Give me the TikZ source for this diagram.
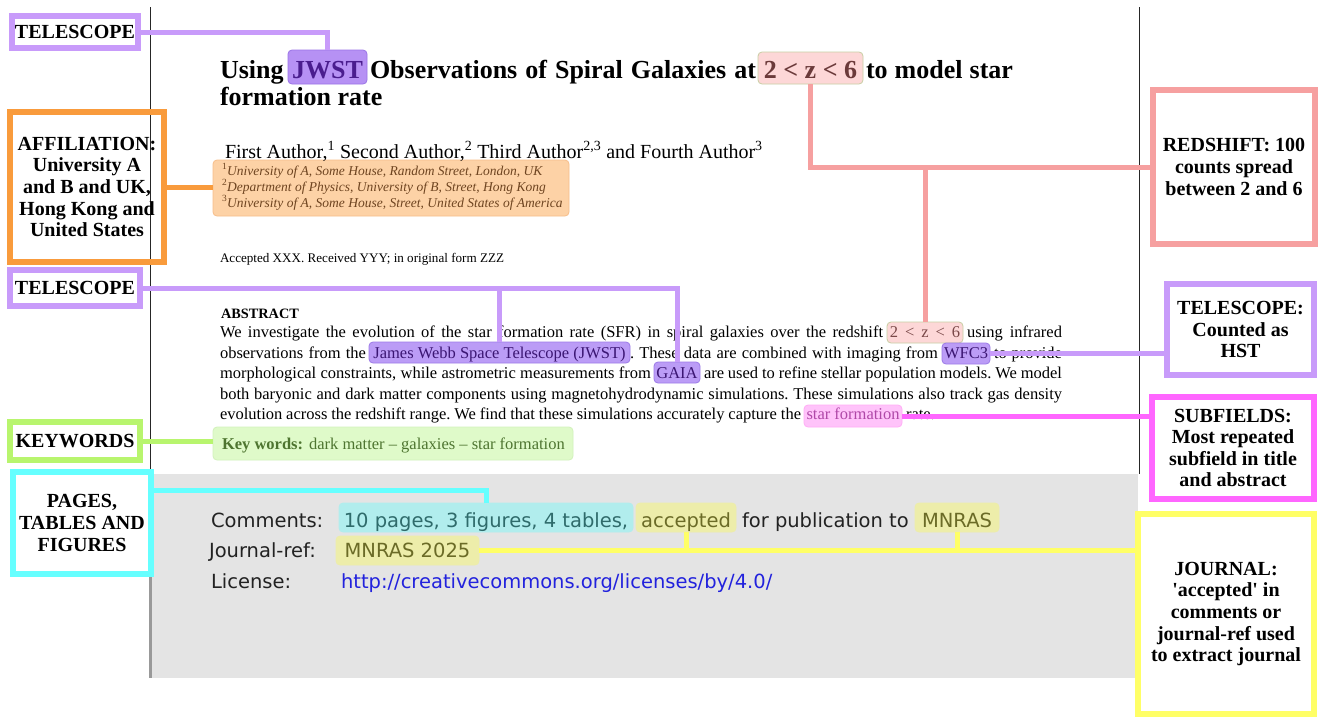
\documentclass[tikz,border=0pt]{standalone}
\usepackage{fontspec}
\setmainfont{Liberation Serif}
\newfontfamily\sansc{DejaVu Sans}
\usetikzlibrary{calc}
\frenchspacing

\definecolor{cpur}{HTML}{C89BFA}
\definecolor{corg}{HTML}{F99B3C}
\definecolor{cred}{HTML}{F6A0A0}
\definecolor{cgrn}{HTML}{B8F56E}
\definecolor{ccyn}{HTML}{66FFFF}
\definecolor{cyel}{HTML}{FFFF66}
\definecolor{cmag}{HTML}{FF66FF}
\definecolor{panel}{HTML}{E4E4E4}
% highlight fills / borders
\definecolor{hjw}{HTML}{B691F4}\definecolor{hjwd}{HTML}{9A74E6}
\definecolor{hpu}{HTML}{BB9CF6}\definecolor{hpud}{HTML}{9C7BE8}
\definecolor{hz}{HTML}{FDD7D7}\definecolor{hzd}{HTML}{C8CFA4}
\definecolor{haf}{HTML}{FDD2A6}\definecolor{hafd}{HTML}{F7BE8A}
\definecolor{hkw}{HTML}{DFFAC9}\definecolor{hkwd}{HTML}{D2F2BB}
\definecolor{hcy}{HTML}{B1EDED}
\definecolor{hye}{HTML}{EDEDAA}
\definecolor{hsf}{HTML}{FFC3FA}\definecolor{hsfd}{HTML}{FFADF6}
% text colours
\definecolor{tjw}{HTML}{4A1D8E}
\definecolor{tpu}{HTML}{3B1673}
\definecolor{tz}{HTML}{6B3A3A}
\definecolor{tz2}{HTML}{7A4848}
\definecolor{taf}{HTML}{6E4420}
\definecolor{tkw}{HTML}{4E7530}
\definecolor{tcy}{HTML}{2F6B6B}
\definecolor{tye}{HTML}{6B6B27}
\definecolor{tsf}{HTML}{B048A8}
\definecolor{tgr}{HTML}{222222}
\definecolor{turl}{HTML}{2222DD}

\newcommand\ftitle{\fontsize{26}{28}\selectfont\bfseries}
\newcommand\fauth{\fontsize{20}{22}\selectfont}
\newcommand\faff{\fontsize{13.5}{16}\selectfont}
\newcommand\facc{\fontsize{13.1}{15}\selectfont}
\newcommand\fabsh{\fontsize{14.3}{16}\selectfont\bfseries}
\newcommand\fabs{\fontsize{16.5}{20}\selectfont}
\newcommand\fkw{\fontsize{16.5}{20}\selectfont}
\newcommand\fcom{\fontsize{19.5}{22}\selectfont\sansc}
\newcommand\flab{\fontsize{20}{21.6}\selectfont\bfseries}
\newcommand\zsp{\hspace{0.42em}}

\tikzset{
  lab/.style={draw=#1, line width=6pt, align=center, inner sep=0pt, font=\flab},
  conn/.style={draw=#1, line width=5pt},
  hlb/.style 2 args={fill=#1, draw=#2, line width=0.8pt, rounded corners=4pt, inner sep=0pt, outer sep=0pt},
  txt/.style={inner sep=0pt, outer sep=0pt, anchor=base west},
  ctxt/.style={inner sep=0pt, outer sep=0pt, anchor=base},
  pageline/.style={line width=0.9pt, black!85},
}

\newcommand\hlbox[7]{%
  \node[hlb={#2}{#3}, minimum width={(#6)-(#4)}, minimum height={(#7)-(#5)}] (#1) at ({((#4)+(#6))/2},{((#5)+(#7))/2}) {};}
\newcommand\seg[5]{\node[txt] (#1) at (#2,#3) {\makebox[#4pt][s]{#5}};}

\begin{document}
\begin{tikzpicture}[x=1pt,y=-1pt]
\useasboundingbox (0,0) rectangle (1318,718);
\fill[white] (0,0) rectangle (1318,718);
\fill[panel] (150,474) rectangle (1138,678);
\draw[line width=3pt, black!40] (150,474) -- (150,678);
\draw[pageline] (150,7) -- (150,474);
\draw[pageline] (1139,7) -- (1139,474);

% highlight boxes
\hlbox{jwstb}{hjw}{hjwd}{288}{50}{367}{84}
\hlbox{z1b}{hz}{hzd}{758}{52}{863}{84}
\hlbox{affb}{haf}{hafd}{213}{160}{569}{216}
\hlbox{z2b}{hz}{hzd}{887}{322}{963}{343}
\hlbox{jwb}{hpu}{hpud}{369}{342}{630}{363}
\hlbox{wfcb}{hpu}{hpud}{942}{343}{990}{364}
\hlbox{gaiab}{hpu}{hpud}{654}{362}{700}{383}
\hlbox{sfb}{hsf}{hsfd}{804}{405}{902}{427}
\hlbox{kwb}{hkw}{hkwd}{213}{427}{573}{460}
\hlbox{comb}{hcy}{hcy}{339}{503}{633}{532}
\hlbox{accb}{hye}{hye}{636}{503}{736}{532}
\hlbox{mnb}{hye}{hye}{915}{503}{999}{532}
\hlbox{mjb}{hye}{hye}{336}{536}{479}{565}

% title
\seg{t1a}{220}{78}{64}{\ftitle Using}
\node[ctxt] (t1j) at (327.5,78) {\ftitle\color{tjw}JWST};
\seg{t1b}{370}{78}{386}{\ftitle Observations of Spiral Galaxies at}
\node[ctxt] (t1z) at (810.5,78) {\ftitle\color{tz}2 < z < 6};
\seg{t1c}{866}{78}{147}{\ftitle to model star}
\node[txt] (t2) at (220,105) {\ftitle formation rate};

% authors
\node[txt] (au) at (225,158) {\fauth First Author,\textsuperscript{1} Second Author,\textsuperscript{2} Third Author\textsuperscript{2,3} and Fourth Author\textsuperscript{3}};
\node[txt] (af1) at (222,175) {\faff\color{taf}\textsuperscript{1}\textit{University of A, Some House, Random Street, London, UK}};
\node[txt] (af2) at (222,191) {\faff\color{taf}\textsuperscript{2}\textit{Department of Physics, University of B, Street, Hong Kong}};
\node[txt] (af3) at (222,207) {\faff\color{taf}\textsuperscript{3}\textit{University of A, Some House, Street, United States of America}};
\node[txt] (acc) at (220,262) {\facc Accepted XXX. Received YYY; in original form ZZZ};

% abstract
\node[txt] (absh) at (221,318) {\fabsh ABSTRACT};
\seg{a1a}{220}{337}{663}{\fabs We investigate the evolution of the star formation rate (SFR) in spiral galaxies over the redshift}
\node[ctxt] (a1z) at (925,337) {\fabs\color{tz2}2\zsp<\zsp z\zsp<\zsp 6};
\seg{a1b}{967}{337}{95}{\fabs using infrared}
\seg{a2a}{220}{358}{146}{\fabs observations from the}
\node[ctxt] (a2j) at (499.5,358) {\fabs\color{tpu}James Webb Space Telescope (JWST)};
\seg{a2b}{630}{358}{308}{\fabs . These data are combined with imaging from}
\node[ctxt] (a2w) at (966,358) {\fabs\color{tpu}WFC3};
\seg{a2c}{994}{358}{68}{\fabs to provide}
\seg{a3a}{220}{378}{431}{\fabs morphological constraints, while astrometric measurements from}
\node[ctxt] (a3g) at (677,378) {\fabs\color{tpu}GAIA};
\seg{a3b}{704}{378}{358}{\fabs are used to refine stellar population models. We model}
\seg{a4}{220}{399}{842}{\fabs both baryonic and dark matter components using magnetohydrodynamic simulations. These simulations also track gas density}
\seg{a5a}{220}{419}{581}{\fabs evolution across the redshift range. We find that these simulations accurately capture the}
\node[ctxt] (a5s) at (853,419) {\fabs\color{tsf}star formation};
\node[txt] (a5b) at (906,419) {\fabs rate.};
\node[txt] (kwt) at (222,449) {\fkw\color{tkw}\textbf{Key words:}\hspace{6pt}dark matter \textendash{} galaxies \textendash{} star formation};

% comments panel
\node[txt] (c1) at (211,527) {\fcom\color{tgr}Comments:};
\node[ctxt] (c1t) at (486,527) {\fcom\color{tcy}10 pages, 3 figures, 4 tables,};
\node[ctxt] (c1a) at (686,527) {\fcom\color{tye}accepted};
\node[txt] (c1f) at (742,527) {\fcom\color{tgr}for publication to};
\node[ctxt] (c1m) at (957,527) {\fcom\color{tye}MNRAS};
\node[txt] (c2) at (209,557) {\fcom\color{tgr}Journal-ref:};
\node[ctxt] (c2m) at (407.5,557) {\fcom\color{tye}MNRAS 2025};
\node[txt] (c3) at (211,588) {\fcom\color{tgr}License:};
\node[txt] (c3u) at (341,588) {\fcom\color{turl}http://creativecommons.org/licenses/by/4.0/};

% labels
\node[lab=cpur, minimum width=126, minimum height=32] (tel1) at (75,32) {TELESCOPE};
\node[lab=corg, minimum width=154, minimum height=150] (aff) at (87,187) {AFFILIATION:\\University A\\and B and UK,\\Hong Kong and\\United States};
\node[lab=cpur, minimum width=130, minimum height=36] (tel2) at (75,288) {TELESCOPE};
\node[lab=cgrn, minimum width=130, minimum height=38] (kw) at (75,441) {KEYWORDS};
\node[lab=ccyn, minimum width=138, minimum height=102] (pages) at (82,523) {PAGES,\\TABLES AND\\FIGURES};
\node[lab=cred, minimum width=162, minimum height=154] (red) at (1234,167) {REDSHIFT: 100\\counts spread\\between 2 and 6};
\node[lab=cpur, minimum width=147, minimum height=91] (hst) at (1240.5,329.5) {TELESCOPE:\\Counted as\\HST};
\node[lab=cmag, minimum width=162, minimum height=102] (sub) at (1233,448) {SUBFIELDS:\\Most repeated\\subfield in title\\and abstract};
\node[lab=cyel, minimum width=176, minimum height=200] (jour) at (1226,614) {JOURNAL:\\\textquotesingle accepted\textquotesingle{} in\\comments or\\journal-ref used\\to extract journal};

% connectors
\draw[conn=cpur] (tel1.east) -| (jwstb.north);
\draw[conn=corg] (aff.east) -- (aff.east -| affb.west);
\draw[conn=cpur] (tel2.east) -| (gaiab.north);
\draw[conn=cpur] (jwb.north) -- (jwb.north |- tel2.east);
\draw[conn=cgrn] (kw.east) -- (kw.east -| kwb.west);
\coordinate (pj) at (154,490);
\draw[conn=ccyn] (pj) -| (comb.north);
\draw[conn=cred] (z1b.south) |- (red.west);
\draw[conn=cred] (z2b.north) -- (z2b.north |- red.west);
\draw[conn=cpur] (wfcb.east) -- (wfcb.east -| hst.west);
\draw[conn=cmag] (sfb.east) -- (sfb.east -| sub.west);
\draw[conn=cyel] (mjb.east) -- (mjb.east -| jour.west);
\draw[conn=cyel] (accb.south) -- (accb.south |- mjb.east);
\draw[conn=cyel] (mnb.south) -- (mnb.south |- mjb.east);
\end{tikzpicture}
\end{document}
